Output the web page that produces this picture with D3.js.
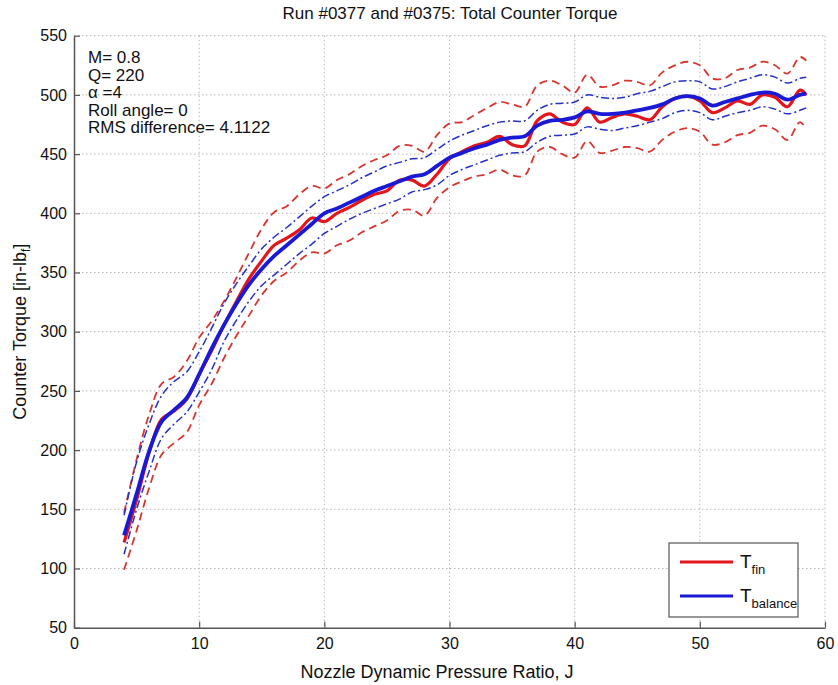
<!DOCTYPE html>
<meta charset="utf-8"/>
<style>
  body { margin: 0; background: #fff; }
  text { font-family: "Liberation Sans", Arial, sans-serif; fill: #111; }
</style>
<svg width="838" height="685"></svg>
<script src="https://d3js.org/d3.v7.min.js"></script>
<script>

// values
var jValues  = [4,5,6,7,8,9,10,11,12,13,14,15,16,17,18,19,20,21,22,23,24,25,26,27,28,29,30,31,32,33,34,35,36,37,38,39,40,41,42,43,44,45,46,47,48,49,50,51,52,53,54,55,56,57,58,58.5];
var tFin     = [122,158,198,226,233,243,264,284,306,326,345,360,373,379,386,396,393,400,405,411,416,419,428,428,423,433,446,452,457,460,465,458,457,478,484,477,475,489,477,481,484,482,479,490,497,499,495,485,489,495,492,500,498,490,504,500];
var tBalance = [128,163,199,224,234,244,264,286,306,324,340,353,364,373,382,391,400,404,409,414,419,423,427,431,433,440,447,451,455,458,462,464,465,474,478,479,481,486,484,484,485,487,489,492,497,499,497,491,494,497,500,502,501,496,500,501];
var finUpper = [147,192,230,256,262,275,295,309,326,346,367,387,401,406,416,423,421,428,433,440,445,449,457,457,452,466,476,477,483,489,494,492,490,508,512,508,502,517,507,508,512,511,508,519,525,528,525,514,514,521,523,528,525,518,532,529];
var finLower = [99,132,168,196,206,215,238,256,278,297,314,331,343,350,360,367,366,373,377,384,389,394,402,403,398,413,422,427,431,433,437,432,432,452,456,450,447,461,451,453,456,455,452,462,469,472,469,458,460,466,468,474,471,462,477,471];
var balUpper = [145,190,222,246,258,266,283,303,324,341,356,370,380,388,397,406,414,419,424,430,435,440,443,446,447,454,461,466,470,474,477,478,478,487,492,493,494,500,498,497,498,501,503,507,511,512,511,505,507,511,514,517,515,510,514,515];
var balLower = [112,150,182,210,222,232,249,268,292,310,326,339,348,357,366,374,383,389,395,400,404,408,412,418,420,424,432,437,441,445,449,451,452,460,465,466,467,473,471,470,472,474,477,480,485,487,485,479,482,485,487,490,488,484,487,489];

var xTicks = [0,10,20,30,40,50,60];
var yTicks = [50,100,150,200,250,300,350,400,450,500,550];
var notes  = ["M= 0.8", "Q= 220", "\u03b1 =4", "Roll angle= 0", "RMS difference= 4.1122"];

var svg = d3.select("svg");

var pLeft = 74, pRight = 825, pTop = 35.7, pBottom = 627.7;

var x = d3.scaleLinear().domain([0, 60]).range([pLeft, pRight]);
var y = d3.scaleLinear().domain([50, 550]).range([pBottom, pTop]);

// grid (dotted)
var grid = svg.append("g")
    .attr("stroke", "#b4b4b4")
    .attr("stroke-width", 1)
    .attr("stroke-dasharray", "1.5,2.5");

grid.selectAll(".vg").data(xTicks.filter(d => d > 0)).enter().append("line")
    .attr("x1", d => x(d)).attr("x2", d => x(d))
    .attr("y1", pTop).attr("y2", pBottom);

grid.selectAll(".hg").data(yTicks.filter(d => d > 50)).enter().append("line")
    .attr("x1", pLeft).attr("x2", pRight)
    .attr("y1", d => y(d)).attr("y2", d => y(d));

// curves
function series(vals) {
    return jValues.map((j, i) => [j, vals[i]]);
}

var line = d3.line()
    .x(d => x(d[0]))
    .y(d => y(d[1]))
    .curve(d3.curveCatmullRom.alpha(0.5));

svg.append("path").datum(series(finUpper))
    .attr("d", line).attr("fill", "none")
    .attr("stroke", "#d8352f").attr("stroke-width", 1.8)
    .attr("stroke-dasharray", "8,5");
svg.append("path").datum(series(finLower))
    .attr("d", line).attr("fill", "none")
    .attr("stroke", "#d8352f").attr("stroke-width", 1.8)
    .attr("stroke-dasharray", "8,5");

svg.append("path").datum(series(balUpper))
    .attr("d", line).attr("fill", "none")
    .attr("stroke", "#2430c8").attr("stroke-width", 1.5)
    .attr("stroke-dasharray", "8,3,2,3");
svg.append("path").datum(series(balLower))
    .attr("d", line).attr("fill", "none")
    .attr("stroke", "#2430c8").attr("stroke-width", 1.5)
    .attr("stroke-dasharray", "8,3,2,3");

svg.append("path").datum(series(tFin))
    .attr("d", line).attr("fill", "none")
    .attr("stroke", "#e3161b").attr("stroke-width", 3.2);

svg.append("path").datum(series(tBalance))
    .attr("d", line).attr("fill", "none")
    .attr("stroke", "#1a1ad6").attr("stroke-width", 3.8);

// axes
var xAxis = svg.append("g")
    .attr("transform", "translate(0," + pBottom + ")")
    .call(d3.axisBottom(x).tickValues(xTicks).tickSizeInner(-6).tickSizeOuter(0).tickPadding(10));
var yAxis = svg.append("g")
    .attr("transform", "translate(" + pLeft + ",0)")
    .call(d3.axisLeft(y).tickValues(yTicks).tickSizeInner(-6).tickSizeOuter(0).tickPadding(7));

[xAxis, yAxis].forEach(function(a) {
    a.select(".domain").attr("stroke", "#555").attr("stroke-width", 1.5);
    a.selectAll(".tick line").attr("stroke", "#555").attr("stroke-width", 1.2);
    a.selectAll(".tick text")
        .style("font-family", "Liberation Sans, Arial, sans-serif")
        .style("font-size", "16px")
        .attr("fill", "#111");
});

// title and axis labels
svg.append("text")
    .attr("x", 450).attr("y", 19)
    .attr("text-anchor", "middle")
    .style("font-size", "17px")
    .text("Run #0377 and #0375: Total Counter Torque");

svg.append("text")
    .attr("x", 437).attr("y", 678)
    .attr("text-anchor", "middle")
    .style("font-size", "18px")
    .text("Nozzle Dynamic Pressure Ratio, J");

var ylab = svg.append("text")
    .attr("transform", "translate(26," + ((pTop + pBottom) / 2) + ") rotate(-90)")
    .attr("text-anchor", "middle")
    .style("font-size", "18px");
ylab.append("tspan").text("Counter Torque [in-lb");
ylab.append("tspan").attr("dy", 4).style("font-size", "12px").text("f");
ylab.append("tspan").attr("dy", -4).text("]");

// run notes
svg.selectAll(".note").data(notes).enter().append("text")
    .attr("x", 88)
    .attr("y", (d, i) => 63 + i * 17.6)
    .style("font-size", "17px")
    .text(d => d);

// legend
var lg = svg.append("g");
lg.append("rect")
    .attr("x", 669).attr("y", 543).attr("width", 129).attr("height", 74)
    .attr("fill", "#fff").attr("stroke", "#555").attr("stroke-width", 1.2);

var legendItems = [
    { name: "fin", color: "#e3161b", yy: 562 },
    { name: "balance", color: "#1a1ad6", yy: 596 }
];
legendItems.forEach(function(it) {
    lg.append("line")
        .attr("x1", 680).attr("x2", 733)
        .attr("y1", it.yy).attr("y2", it.yy)
        .attr("stroke", it.color).attr("stroke-width", 3);
    var t = lg.append("text").attr("x", 740).attr("y", it.yy + 6).style("font-size", "19px");
    t.append("tspan").text("T");
    t.append("tspan").attr("dy", 6).style("font-size", "13px").text(it.name);
});

</script>
